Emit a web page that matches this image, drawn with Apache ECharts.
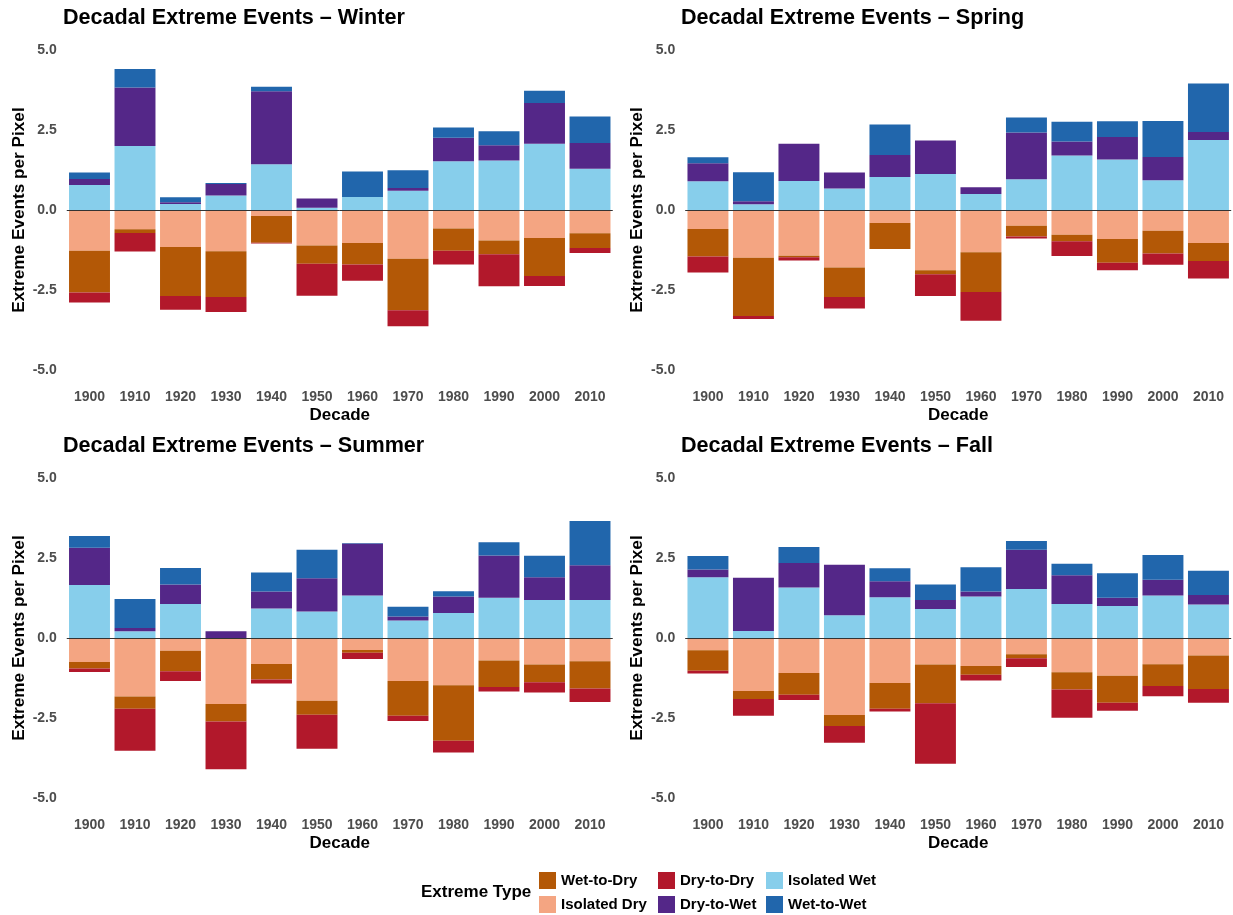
<!DOCTYPE html>
<html>
<head>
<meta charset="utf-8">
<title>Decadal Extreme Events</title>
<script src="https://cdn.jsdelivr.net/npm/echarts@6/dist/echarts.min.js"></script>
<style>
  html, body { margin: 0; padding: 0; background: #ffffff; }
  #chart { width: 1233px; height: 915px; }
</style>
</head>
<body>
<div id="chart"></div>
<script>
// Decades shown along each x axis
const decades = ['1900', '1910', '1920', '1930', '1940', '1950', '1960', '1970', '1980', '1990', '2000', '2010'];
const yTicks = [-5, -2.5, 0, 2.5, 5];

// Winter (wet types positive, dry types negative)
const winterIsolatedWet = [0.78, 2.00, 0.19, 0.45, 1.43, 0.07, 0.41, 0.60, 1.52, 1.55, 2.07, 1.29];
const winterDryToWet    = [0.19, 1.83, 0.05, 0.36, 2.28, 0.29, 0.00, 0.09, 0.74, 0.47, 1.27, 0.80];
const winterWetToWet    = [0.20, 0.58, 0.16, 0.03, 0.14, 0.00, 0.79, 0.55, 0.32, 0.44, 0.39, 0.83];
const winterIsolatedDry = [-1.27, -0.60, -1.16, -1.29, -0.19, -1.11, -1.03, -1.52, -0.58, -0.95, -0.875, -0.73];
const winterWetToDry    = [-1.31, -0.12, -1.53, -1.43, -0.83, -0.57, -0.67, -1.61, -0.69, -0.43, -1.19, -0.46];
const winterDryToDry    = [-0.31, -0.58, -0.43, -0.47, -0.03, -1.00, -0.51, -0.50, -0.43, -1.00, -0.31, -0.15];

// Spring
const springIsolatedWet = [0.90, 0.18, 0.91, 0.67, 1.03, 1.125, 0.50, 0.96, 1.70, 1.58, 0.93, 2.19];
const springDryToWet    = [0.56, 0.09, 1.16, 0.50, 0.69, 1.05, 0.21, 1.46, 0.44, 0.70, 0.73, 0.25];
const springWetToWet    = [0.19, 0.91, 0.00, 0.00, 0.95, 0.00, 0.00, 0.47, 0.62, 0.49, 1.12, 1.51];
const springIsolatedDry = [-0.59, -1.49, -1.43, -1.80, -0.41, -1.885, -1.32, -0.49, -0.77, -0.91, -0.65, -1.03];
const springWetToDry    = [-0.86, -1.82, -0.05, -0.92, -0.81, -0.125, -1.24, -0.34, -0.21, -0.74, -0.71, -0.56];
const springDryToDry    = [-0.50, -0.10, -0.10, -0.36, 0.00, -0.68, -0.90, -0.06, -0.46, -0.23, -0.35, -0.55];

// Summer
const summerIsolatedWet = [1.66, 0.21, 1.06, 0.00, 0.92, 0.83, 1.33, 0.55, 0.78, 1.26, 1.19, 1.19];
const summerDryToWet    = [1.16, 0.10, 0.61, 0.21, 0.53, 1.04, 1.62, 0.12, 0.52, 1.32, 0.71, 1.08];
const summerWetToWet    = [0.37, 0.91, 0.52, 0.00, 0.60, 0.89, 0.02, 0.31, 0.16, 0.41, 0.67, 1.39];
const summerIsolatedDry = [-0.75, -1.83, -0.40, -2.06, -0.81, -1.96, -0.375, -1.34, -1.48, -0.70, -0.83, -0.73];
const summerWetToDry    = [-0.20, -0.38, -0.64, -0.55, -0.49, -0.44, -0.085, -1.09, -1.73, -0.83, -0.555, -0.85];
const summerDryToDry    = [-0.11, -1.31, -0.30, -1.49, -0.12, -1.06, -0.20, -0.16, -0.37, -0.14, -0.315, -0.42];

// Fall
const fallIsolatedWet = [1.90, 0.22, 1.58, 0.71, 1.27, 0.91, 1.30, 1.53, 1.06, 1.00, 1.33, 1.05];
const fallDryToWet    = [0.24, 1.66, 0.76, 1.58, 0.50, 0.28, 0.15, 1.23, 0.90, 0.26, 0.49, 0.29];
const fallWetToWet    = [0.42, 0.00, 0.50, 0.00, 0.41, 0.48, 0.76, 0.27, 0.36, 0.76, 0.77, 0.76];
const fallIsolatedDry = [-0.385, -1.66, -1.09, -2.41, -1.41, -0.83, -0.875, -0.51, -1.07, -1.18, -0.82, -0.55];
const fallWetToDry    = [-0.635, -0.25, -0.68, -0.34, -0.80, -1.21, -0.275, -0.125, -0.54, -0.84, -0.68, -1.04];
const fallDryToDry    = [-0.09, -0.52, -0.17, -0.52, -0.09, -1.89, -0.18, -0.27, -0.88, -0.25, -0.32, -0.43];

// Extreme types, in stacking order, with their fill colours
const typeNames  = ['Isolated Wet', 'Dry-to-Wet', 'Wet-to-Wet', 'Isolated Dry', 'Wet-to-Dry', 'Dry-to-Dry'];
const typeColors = ['#87CEEB', '#542788', '#2166AC', '#F4A582', '#B35806', '#B2182B'];

const seasons = [
  { name: 'Winter', data: [winterIsolatedWet, winterDryToWet, winterWetToWet, winterIsolatedDry, winterWetToDry, winterDryToDry] },
  { name: 'Spring', data: [springIsolatedWet, springDryToWet, springWetToWet, springIsolatedDry, springWetToDry, springDryToDry] },
  { name: 'Summer', data: [summerIsolatedWet, summerDryToWet, summerWetToWet, summerIsolatedDry, summerWetToDry, summerDryToDry] },
  { name: 'Fall',   data: [fallIsolatedWet, fallDryToWet, fallWetToWet, fallIsolatedDry, fallWetToDry, fallDryToDry] }
];

// Panel placement: 2 x 2
const panelLeft = [66.75, 685.2, 66.75, 685.2];
const panelTop  = [50, 50, 478, 478];
const titleLeft = [58, 676, 58, 676];
const titleTop  = [2, 2, 430, 430];

const FONT = '"Liberation Sans", Arial, Helvetica, sans-serif';

const grids = [], xAxes = [], yAxes = [], series = [], titles = [];

seasons.forEach((s, i) => {
  titles.push({
    text: 'Decadal Extreme Events \u2013 ' + s.name,
    left: titleLeft[i], top: titleTop[i],
    textStyle: { fontFamily: FONT, fontSize: 21.6, fontWeight: 'bold', color: '#000000' }
  });
  grids.push({ left: panelLeft[i], top: panelTop[i], width: 546, height: 320, containLabel: false });
  xAxes.push({
    type: 'category', gridIndex: i, data: decades,
    axisLine: { show: false, onZero: false },
    axisTick: { show: false },
    splitLine: { show: false },
    axisLabel: { fontFamily: FONT, fontSize: 14, fontWeight: 'bold', color: '#4D4D4D', margin: 20 },
    name: 'Decade', nameLocation: 'middle', nameGap: 37,
    nameTextStyle: { fontFamily: FONT, fontSize: 17, fontWeight: 'bold', color: '#000000' }
  });
  yAxes.push({
    type: 'value', gridIndex: i, min: -5, max: 5, interval: 2.5,
    axisLine: { show: false }, axisTick: { show: false }, splitLine: { show: false },
    axisLabel: {
      fontFamily: FONT, fontSize: 14, fontWeight: 'bold', color: '#4D4D4D', margin: 10,
      formatter: v => v.toFixed(1)
    },
    name: 'Extreme Events per Pixel', nameLocation: 'middle', nameGap: 39,
    nameTextStyle: { fontFamily: FONT, fontSize: 17.2, fontWeight: 'bold', color: '#000000' }
  });
  typeNames.forEach((t, k) => {
    const ser = {
      name: t, type: 'bar', stack: 'events' + i,
      xAxisIndex: i, yAxisIndex: i,
      barWidth: '90%',
      itemStyle: { color: typeColors[k] },
      data: s.data[k],
      animation: false
    };
    if (k === typeNames.length - 1) {
      // horizontal reference line at zero, drawn over the bars
      ser.markLine = {
        silent: true, symbol: ['none', 'none'],
        label: { show: false },
        lineStyle: { color: '#333333', width: 1, type: 'solid' },
        data: [{ yAxis: 0 }]
      };
      ser.z = 5;
    }
    series.push(ser);
  });
});

const legendBase = {
  orient: 'vertical', top: 872, padding: 0, height: 43,
  itemWidth: 17, itemHeight: 17, itemGap: 7,
  icon: 'rect', selectedMode: false,
  textStyle: { fontFamily: FONT, fontSize: 15, fontWeight: 'bold', color: '#000000' }
};
const legends = [
  Object.assign({}, legendBase, { left: 539, data: ['Wet-to-Dry', 'Isolated Dry'] }),
  Object.assign({}, legendBase, { left: 658, data: ['Dry-to-Dry', 'Dry-to-Wet'] }),
  Object.assign({}, legendBase, { left: 766, data: ['Isolated Wet', 'Wet-to-Wet'] })
];

const chart = echarts.init(document.getElementById('chart'), null, { renderer: 'canvas' });
chart.setOption({
  backgroundColor: '#ffffff',
  animation: false,
  title: titles,
  grid: grids,
  xAxis: xAxes,
  yAxis: yAxes,
  legend: legends,
  graphic: [{
    type: 'text', left: 421, top: 884,
    style: { text: 'Extreme Type', font: 'bold 17px ' + FONT, fill: '#000000' }
  }],
  series: series
});
</script>
</body>
</html>
